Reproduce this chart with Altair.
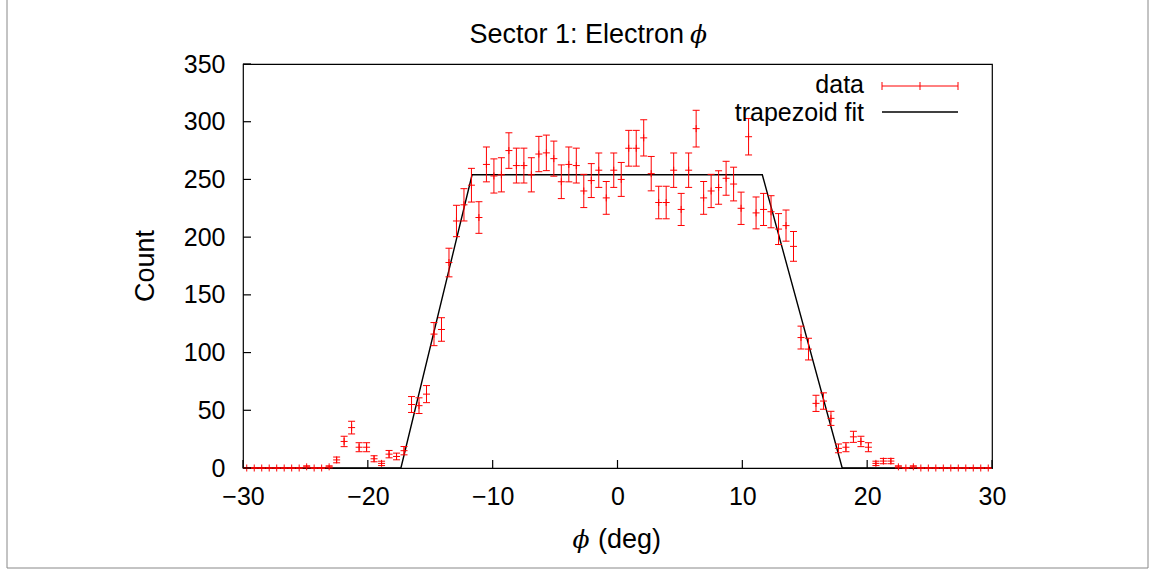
import altair as alt
import pandas as pd

FONT = "Liberation Sans"
FS = 25
FT = 27

phi_centers = [
    -29.7, -29.1, -28.5, -27.9, -27.3, -26.7, -26.1, -25.5, -24.9, -24.3,
    -23.7, -23.1, -22.5, -21.9, -21.3, -20.7, -20.1, -19.5, -18.9, -18.3,
    -17.7, -17.1, -16.5, -15.9, -15.3, -14.7, -14.1, -13.5, -12.9, -12.3,
    -11.7, -11.1, -10.5, -9.9, -9.3, -8.7, -8.1, -7.5, -6.9, -6.3,
    -5.7, -5.1, -4.5, -3.9, -3.3, -2.7, -2.1, -1.5, -0.9, -0.3,
    0.3, 0.9, 1.5, 2.1, 2.7, 3.3, 3.9, 4.5, 5.1, 5.7,
    6.3, 6.9, 7.5, 8.1, 8.7, 9.3, 9.9, 10.5, 11.1, 11.7,
    12.3, 12.9, 13.5, 14.1, 14.7, 15.3, 15.9, 16.5, 17.1, 17.7,
    18.3, 18.9, 19.5, 20.1, 20.7, 21.3, 21.9, 22.5, 23.1, 23.7,
    24.3, 24.9, 25.5, 26.1, 26.7, 27.3, 27.9, 28.5, 29.1, 29.7,
]

counts = [
    0, 0, 0, 0, 0, 0, 0, 0, 1, 0,
    0, 1, 7, 23, 35, 18, 18, 8, 4, 12,
    10, 15, 55, 54, 64, 116, 120, 178, 214, 228,
    245, 217, 263, 253, 254, 275, 262, 262, 254, 272,
    273, 268, 248, 263, 262, 240, 249, 258, 234, 258,
    250, 277, 277, 286, 255, 230, 230, 258, 224, 258,
    294, 234, 240, 243, 251, 246, 225, 287, 221, 224,
    222, 207, 210, 192, 113, 103, 56, 58, 43, 17,
    18, 27, 23, 18, 4, 6, 6, 1, 0, 1,
    0, 0, 0, 0, 0, 0, 0, 0, 0, 0,
]

errors = [
    0, 0, 0, 0, 0, 0, 0, 0, 0.9, 0,
    0, 0.9, 2.5, 4.5, 5.5, 3.9, 3.9, 2.6, 1.9, 3.2,
    2.9, 3.6, 6.9, 6.8, 7.4, 10.0, 10.2, 12.4, 13.6, 14.0,
    14.6, 13.7, 15.1, 14.8, 14.8, 15.4, 15.1, 15.1, 14.8, 15.3,
    15.4, 15.2, 14.6, 15.1, 15.1, 14.4, 14.7, 14.9, 14.2, 14.9,
    14.7, 15.5, 15.5, 15.7, 14.9, 14.1, 14.1, 14.9, 13.9, 14.9,
    15.9, 14.2, 14.4, 14.5, 14.7, 14.6, 14.0, 15.8, 13.8, 13.9,
    13.9, 13.4, 13.5, 12.9, 9.9, 9.4, 7.0, 7.1, 6.1, 3.8,
    3.9, 4.8, 4.5, 3.9, 1.9, 2.3, 2.3, 0.9, 0, 0.9,
    0, 0, 0, 0, 0, 0, 0, 0, 0, 0,
]

fit_phi = [-30, -17.35, -11.65, 11.6, 18.0, 30]
fit_count = [0, 0, 254, 254, 0, 0]

x_ticks = [-30, -20, -10, 0, 10, 20, 30]
y_ticks = [0, 50, 100, 150, 200, 250, 300, 350]

W, H = 749, 404

df = pd.DataFrame({"phi": phi_centers, "count": counts, "err": errors})
df["lo"] = df["count"] - df["err"]
df["hi"] = df["count"] + df["err"]
fit_df = pd.DataFrame({"phi": fit_phi, "count": fit_count})
xt_df = pd.DataFrame({"phi": x_ticks})
yt_df = pd.DataFrame({"count": y_ticks})

xs = alt.Scale(domain=[-30, 30], nice=False, zero=False)
ys = alt.Scale(domain=[0, 350], nice=False, zero=False)
x_axis = alt.Axis(values=x_ticks, ticks=False, domain=False, grid=False, title=None,
                  labelFont=FONT, labelFontSize=FS, labelColor="black", labelPadding=16,
                  format="d", labelFlush=False)
y_axis = alt.Axis(values=y_ticks, ticks=False, domain=False, grid=False, title=None,
                  labelFont=FONT, labelFontSize=FS, labelColor="black", labelPadding=18,
                  format="d", labelFlush=False)

X = alt.X("phi:Q", scale=xs, axis=x_axis)
RED = "#ff0000"

bars = alt.Chart(df).mark_rule(color=RED, strokeWidth=1).encode(
    x=X, y=alt.Y("lo:Q", scale=ys, axis=y_axis), y2="hi:Q")
cap_lo = alt.Chart(df).mark_point(shape="M-1,0L1,0", size=49, color=RED, filled=False,
                                  strokeWidth=1, opacity=1).encode(
    x=X, y=alt.Y("lo:Q", scale=ys, axis=y_axis))
cap_hi = alt.Chart(df).mark_point(shape="M-1,0L1,0", size=49, color=RED, filled=False,
                                  strokeWidth=1, opacity=1).encode(
    x=X, y=alt.Y("hi:Q", scale=ys, axis=y_axis))
plus = alt.Chart(df).mark_point(shape="M-1,0L1,0M0,-1L0,1", size=49, color=RED, filled=False,
                                strokeWidth=1, opacity=1).encode(
    x=X, y=alt.Y("count:Q", scale=ys, axis=y_axis))
fit = alt.Chart(fit_df).mark_line(color="black", strokeWidth=1.4).encode(
    x=X, y=alt.Y("count:Q", scale=ys, axis=y_axis))

xticks = alt.Chart(xt_df).mark_rule(color="black", strokeWidth=1.2).encode(
    x=X, y=alt.value(H), y2=alt.value(H - 8))
yticks = alt.Chart(yt_df).mark_rule(color="black", strokeWidth=1.2).encode(
    y=alt.Y("count:Q", scale=ys, axis=y_axis), x=alt.value(0), x2=alt.value(8))

one = alt.Data(values=[{"k": 0}])


def txt(s, x, y, align="center", size=FT, font=FONT, style="normal", angle=0, color="black"):
    kw = dict(align=align, baseline="middle", fontSize=size, font=font, color=color)
    if style != "normal":
        kw["fontStyle"] = style
    if angle:
        kw["angle"] = angle
    return alt.Chart(one).mark_text(**kw).encode(
        x=alt.value(x), y=alt.value(y), text=alt.value(s))


title1 = txt("Sector 1: Electron", 441, -29, align="right")
title2 = txt("\u03d5", 447, -29, align="left", font="DejaVu Serif", style="italic", size=FT - 2)
xt1 = txt("\u03d5", 338, 476, align="center", font="DejaVu Serif", style="italic", size=FT - 2)
xt2 = txt("(deg)", 355, 476, align="left")
ylab = txt("Count", -97, 202, angle=270)

leg_data = txt("data", 621, 21, align="right", size=25)
leg_fit = txt("trapezoid fit", 621, 49, align="right", size=25)

leg_line = alt.Chart(one).mark_rule(color=RED, strokeWidth=1).encode(
    x=alt.value(639), x2=alt.value(715), y=alt.value(22))
leg_caps = alt.Chart(alt.Data(values=[{"p": 639}, {"p": 677}, {"p": 715}])).mark_rule(
    color=RED, strokeWidth=1).encode(
    x=alt.X("p:Q", scale=None), y=alt.value(18), y2=alt.value(26))
leg_fitline = alt.Chart(one).mark_rule(color="black", strokeWidth=1.4).encode(
    x=alt.value(639), x2=alt.value(715), y=alt.value(48))

frame = alt.Chart(one).mark_rect(fillOpacity=0, stroke="#888888", strokeWidth=1).encode(
    x=alt.value(-236), x2=alt.value(905), y=alt.value(-70), y2=alt.value(504))

chart = alt.layer(
    frame, fit, bars, cap_lo, cap_hi, plus, xticks, yticks,
    title1, title2, xt1, xt2, ylab, leg_data, leg_fit, leg_line, leg_caps, leg_fitline,
).properties(
    width=W, height=H,
    padding={"left": 243, "top": 64, "right": 164, "bottom": 103},
    autosize=alt.AutoSizeParams(type="none"),
    background="white",
).configure_view(stroke="black", strokeWidth=1.2)

chart.save("out.html", embed_options={"renderer": "svg", "actions": False})
